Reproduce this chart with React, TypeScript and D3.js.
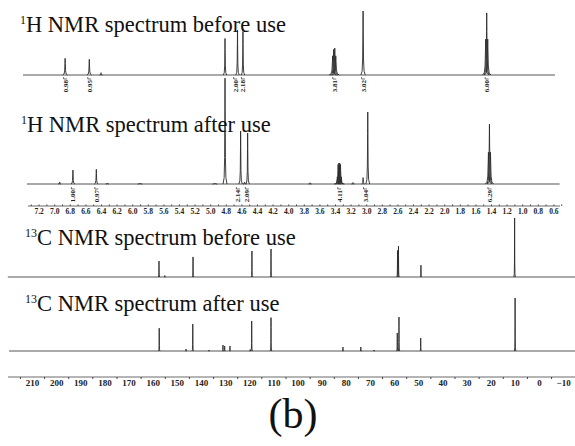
import React, { useRef, useEffect } from "react";
import * as d3 from "d3";

// peaks: [ppm, relative intensity (tallest = 100), half width in ppm]
const hBeforePeaks: number[][] = [
  [6.86, 26, 0.03],
  [6.55, 24.5, 0.03],
  [6.4, 3.6, 0.02],
  [4.81, 57, 0.022],
  [4.65, 70, 0.022],
  [4.58, 68, 0.022],
  [3.43, 30, 0.045],
  [3.417, 40, 0.04],
  [3.403, 42, 0.04],
  [3.39, 30, 0.045],
  [3.04, 100, 0.028],
  [1.468, 56, 0.04],
  [1.455, 97, 0.032],
  [1.442, 56, 0.04],
];

const hAfterPeaks: number[][] = [
  [6.93, 2.8, 0.02],
  [6.76, 19.4, 0.025],
  [6.46, 20.4, 0.025],
  [6.32, 1.4, 0.02],
  [5.9, 1.4, 0.03],
  [4.94, 1.4, 0.03],
  [4.81, 147, 0.025],
  [4.61, 73.6, 0.022],
  [4.56, 2.8, 0.02],
  [4.52, 70.8, 0.022],
  [3.72, 1.7, 0.02],
  [3.37, 10, 0.04],
  [3.36, 27, 0.035],
  [3.35, 29, 0.035],
  [3.34, 29, 0.035],
  [3.33, 27, 0.035],
  [3.32, 10, 0.04],
  [3.17, 2, 0.02],
  [3.04, 8.8, 0.02],
  [2.98, 100, 0.025],
  [1.433, 44, 0.04],
  [1.42, 83, 0.032],
  [1.407, 44, 0.04],
];

const cBeforePeaks: number[][] = [
  [157.4, 27, 0.3],
  [155, 2.5, 0.3],
  [143.3, 34, 0.3],
  [118.9, 44, 0.3],
  [111.0, 47.5, 0.3],
  [58.6, 45, 0.3],
  [58.2, 52.5, 0.3],
  [48.9, 20, 0.3],
  [10.1, 100, 0.3],
];

const cAfterPeaks: number[][] = [
  [157.3, 43, 0.3],
  [146.2, 3.8, 0.3],
  [143.4, 51, 0.3],
  [136.7, 1.9, 0.3],
  [130.9, 11.3, 0.3],
  [130.2, 9.4, 0.3],
  [128.0, 9.4, 0.3],
  [119.6, 2.8, 0.3],
  [119.0, 56.6, 0.3],
  [111.0, 63, 0.3],
  [81.2, 7.5, 0.3],
  [73.8, 7.5, 0.3],
  [68.3, 1.9, 0.3],
  [58.7, 34, 0.3],
  [58.0, 64, 0.3],
  [49.0, 24.5, 0.3],
  [9.9, 100, 0.3],
];

// integral labels: [ppm, text]
const hBeforeIntegrals: [number, string][] = [
  [6.86, "0.98"],
  [6.55, "0.95"],
  [4.68, "2.00"],
  [4.58, "2.18"],
  [3.41, "3.81"],
  [3.04, "3.02"],
  [1.455, "6.00"],
];

const hAfterIntegrals: [number, string][] = [
  [6.76, "1.00"],
  [6.46, "0.97"],
  [4.645, "2.14"],
  [4.53, "2.09"],
  [3.345, "4.11"],
  [3.015, "3.04"],
  [1.42, "6.29"],
];

const hTicks = [7.2, 7.0, 6.8, 6.6, 6.4, 6.2, 6.0, 5.8, 5.6, 5.4, 5.2, 5.0, 4.8, 4.6, 4.4, 4.2, 4.0,
  3.8, 3.6, 3.4, 3.2, 3.0, 2.8, 2.6, 2.4, 2.2, 2.0, 1.8, 1.6, 1.4, 1.2, 1.0, 0.8, 0.6];
const cTicks = [210, 200, 190, 180, 170, 160, 150, 140, 130, 120, 110, 100, 90, 80, 70, 60, 50, 40, 30, 20, 10, 0, -10];

const titles = [
  { sup: "1", main: "H NMR spectrum before use" },
  { sup: "1", main: "H NMR spectrum after use" },
  { sup: "13", main: "C NMR spectrum before use" },
  { sup: "13", main: "C NMR spectrum after use" },
];

// shape of one line, as fractions of half width / height
const profile = [[-1, 0], [-0.45, 0.06], [-0.2, 0.25], [-0.07, 0.7], [0, 1], [0.07, 0.7], [0.2, 0.25], [0.45, 0.06], [1, 0]];

const App = () => {
  const ref = useRef<SVGSVGElement>(null);

  useEffect(() => {
    const width = 575;
    const height = 446;
    const serif = "'Liberation Serif', 'Times New Roman', serif";
    const ink = "#2a2a2a";

    const svg = d3.select(ref.current);
    svg.selectAll("*").remove();
    svg.append("rect").attr("width", width).attr("height", height).attr("fill", "#fff");

    const xH = d3.scaleLinear().domain([7.2, 0.6]).range([38.6, 553.4]);
    const xC = d3.scaleLinear().domain([210, 0]).range([32, 539]);

    const panels = [
      { peaks: hBeforePeaks, x: xH, y: d3.scaleLinear().domain([0, 100]).range([75, 11]), ext: [7.4, 0.58] },
      { peaks: hAfterPeaks, x: xH, y: d3.scaleLinear().domain([0, 100]).range([184, 112]), ext: [7.35, 0.52] },
      { peaks: cBeforePeaks, x: xC, y: d3.scaleLinear().domain([0, 100]).range([277, 218]), ext: [220, -16] },
      { peaks: cAfterPeaks, x: xC, y: d3.scaleLinear().domain([0, 100]).range([351, 298]), ext: [219.5, -16] },
    ];

    panels.forEach((p) => {
      const g = svg.append("g");
      g.append("line")
        .attr("x1", p.x(p.ext[0]))
        .attr("x2", p.x(p.ext[1]))
        .attr("y1", p.y(0))
        .attr("y2", p.y(0))
        .attr("stroke", "#555")
        .attr("stroke-width", 1);

      p.peaks.forEach(([ppm, h, w]) => {
        const line = d3.line<number[]>()
          .x((d) => p.x(ppm + d[0] * w))
          .y((d) => p.y(h * d[1]));
        g.append("path")
          .attr("d", line(profile))
          .attr("fill", "none")
          .attr("stroke", ink)
          .attr("stroke-width", 0.9);
      });
    });

    // titles
    const titlePos = [
      [20, 32],
      [21, 132],
      [25, 245],
      [25, 311],
    ];
    titles.forEach((t, i) => {
      const text = svg.append("text")
        .attr("x", titlePos[i][0])
        .attr("y", titlePos[i][1])
        .attr("font-family", serif)
        .attr("font-size", 22.5)
        .attr("fill", "#111");
      text.append("tspan").attr("font-size", 12).attr("dy", -8).text(t.sup);
      text.append("tspan").attr("dy", 8).text(t.main);
    });

    // integrals
    const integ = (list: [number, string][], yEnd: number) => {
      list.forEach(([ppm, label]) => {
        const x = xH(ppm);
        svg.append("text")
          .attr("transform", `translate(${x + 2.5},${yEnd}) rotate(-90)`)
          .attr("text-anchor", "end")
          .attr("font-family", serif)
          .attr("font-size", 7)
          .attr("font-weight", "bold")
          .attr("fill", "#222")
          .text(label);
        svg.append("path")
          .attr("d", `M${x - 1.5},${yEnd - 3}V${yEnd - 1}H${x + 2}`)
          .attr("fill", "none")
          .attr("stroke", "#333")
          .attr("stroke-width", 0.7);
      });
    };
    integ(hBeforeIntegrals, 80);
    integ(hAfterIntegrals, 190);

    // 1H axis
    const hAxisY = 206;
    svg.append("line")
      .attr("x1", 28).attr("x2", 560)
      .attr("y1", hAxisY).attr("y2", hAxisY)
      .attr("stroke", "#444").attr("stroke-width", 0.8);
    svg.append("g")
      .attr("transform", `translate(0,${hAxisY})`)
      .call(d3.axisBottom(xH).tickValues(d3.range(0.5, 7.36, 0.1)).tickSize(-1.5).tickFormat(() => ""))
      .call((g) => g.select(".domain").remove())
      .call((g) => g.selectAll("line").attr("stroke", "#444"));
    svg.append("g")
      .attr("transform", `translate(0,${hAxisY})`)
      .call(d3.axisBottom(xH).tickValues(hTicks).tickSize(0).tickPadding(3).tickFormat(d3.format(".1f")))
      .call((g) => g.select(".domain").remove())
      .call((g) => g.selectAll("text")
        .attr("font-family", serif)
        .attr("font-size", 7.5)
        .attr("font-weight", "bold")
        .attr("fill", "#222"));

    // 13C axis
    const cAxisY = 377;
    svg.append("line")
      .attr("x1", 8).attr("x2", 575)
      .attr("y1", cAxisY).attr("y2", cAxisY)
      .attr("stroke", "#444").attr("stroke-width", 0.8);
    svg.append("g")
      .attr("transform", `translate(0,${cAxisY})`)
      .call(d3.axisBottom(xC).tickValues(d3.range(-15, 220, 10)).tickSize(2).tickFormat(() => ""))
      .call((g) => g.select(".domain").remove())
      .call((g) => g.selectAll("line").attr("stroke", "#444"));
    svg.append("g")
      .attr("transform", `translate(0,${cAxisY})`)
      .call(d3.axisBottom(xC).tickValues(cTicks).tickSize(0).tickPadding(3).tickFormat(d3.format("d")))
      .call((g) => g.select(".domain").remove())
      .call((g) => g.selectAll("text")
        .attr("font-family", serif)
        .attr("font-size", 9)
        .attr("font-weight", "bold")
        .attr("fill", "#222"));

    svg.append("text")
      .attr("x", 293)
      .attr("y", 428)
      .attr("text-anchor", "middle")
      .attr("font-family", serif)
      .attr("font-size", 42)
      .attr("fill", "#111")
      .text("(b)");
  }, []);

  return (
    <svg
      ref={ref}
      width={575}
      height={446}
      style={{ position: "absolute", left: 0, top: 0 }}
    />
  );
};

export default App;
